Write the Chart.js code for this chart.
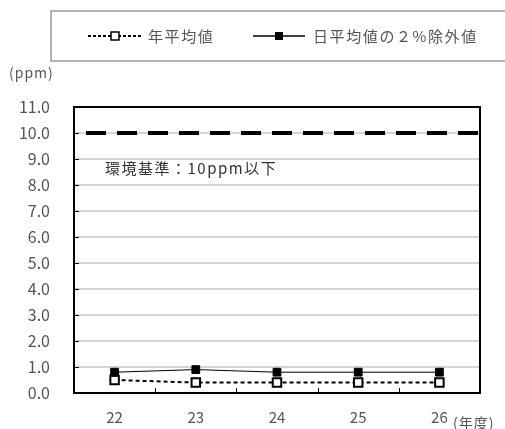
<!DOCTYPE html>
<html>
<head>
<meta charset="utf-8">
<script src="https://cdn.jsdelivr.net/npm/chart.js@4/dist/chart.umd.min.js"></script>
<style>
  html, body { margin: 0; padding: 0; background: #fff; }
  #wrap { width: 505px; height: 429px; position: relative; }
</style>
</head>
<body>
<div id="wrap"><canvas id="chart" width="505" height="429"></canvas></div>
<script>
// データ
const years = ['22', '23', '24', '25', '26'];
const annualMean = [0.5, 0.4, 0.4, 0.4, 0.4];          // 年平均値
const dailyExcl2 = [0.8, 0.9, 0.8, 0.8, 0.8];          // 日平均値の２%除外値
const yTicks = [0, 1, 2, 3, 4, 5, 6, 7, 8, 9, 10, 11];
const standardValue = 10;
const standardLabel = '環境基準：10ppm以下';

const FONT = '"Noto Sans CJK JP", "DejaVu Sans", sans-serif';
const TEXT = '#555';

// 枠・目盛り・基準線・凡例を描くプラグイン
const extras = {
    id: 'extras',
    afterDraw(chart) {
        const ctx = chart.ctx;
        const a = chart.chartArea;
        const x = chart.scales.x;
        const y = chart.scales.y;
        ctx.save();

        // 基準線 (太い破線)
        const y10 = Math.round(y.getPixelForValue(standardValue));
        ctx.strokeStyle = '#000';
        ctx.lineWidth = 4;
        ctx.setLineDash([20, 11]);
        ctx.beginPath();
        ctx.moveTo(a.left + 12, y10);
        ctx.lineTo(a.right, y10);
        ctx.stroke();
        ctx.setLineDash([]);

        ctx.fillStyle = '#333';
        ctx.font = '15px ' + FONT;
        ctx.letterSpacing = '1.5px';
        ctx.textBaseline = 'middle';
        ctx.textAlign = 'left';
        ctx.fillText(standardLabel, 105, 168);

        // 内向きの目盛り
        ctx.strokeStyle = '#000';
        ctx.lineWidth = 1;
        ctx.beginPath();
        yTicks.forEach(v => {
            const py = Math.round(y.getPixelForValue(v)) + 0.5;
            ctx.moveTo(a.left, py);
            ctx.lineTo(a.left + 5, py);
        });
        for (let i = 1; i < years.length; i++) {
            const px = Math.round((x.getPixelForValue(i - 1) + x.getPixelForValue(i)) / 2) + 0.5;
            ctx.moveTo(px, a.bottom);
            ctx.lineTo(px, a.bottom - 5);
        }
        ctx.stroke();

        // 外枠
        ctx.lineWidth = 2;
        ctx.strokeRect(a.left, a.top, a.right - a.left, a.bottom - a.top);

        // 単位
        ctx.fillStyle = TEXT;
        ctx.font = '14px ' + FONT;
        ctx.letterSpacing = '1px';
        ctx.fillText('(ppm)', 9, 73);
        ctx.fillText('(年度)', 453, 423);

        // 凡例
        ctx.strokeStyle = '#999';
        ctx.lineWidth = 1.5;
        ctx.strokeRect(51, 11, 470, 50);
        const ly = 36;
        ctx.strokeStyle = '#000';
        ctx.lineWidth = 2;
        ctx.setLineDash([3, 2]);
        ctx.beginPath();
        ctx.moveTo(88, ly);
        ctx.lineTo(143, ly);
        ctx.stroke();
        ctx.setLineDash([]);
        ctx.fillStyle = '#fff';
        ctx.fillRect(111, ly - 4, 8, 8);
        ctx.lineWidth = 1.5;
        ctx.strokeRect(111, ly - 4, 8, 8);

        ctx.lineWidth = 1.5;
        ctx.beginPath();
        ctx.moveTo(253, ly);
        ctx.lineTo(305, ly);
        ctx.stroke();
        ctx.fillStyle = '#000';
        ctx.fillRect(275, ly - 4, 8, 8);

        ctx.fillStyle = TEXT;
        ctx.font = '15px ' + FONT;
        ctx.letterSpacing = '1.6px';
        ctx.fillText('年平均値', 148, ly);
        ctx.fillText('日平均値の２%除外値', 313, ly);
        ctx.restore();
    }
};

new Chart(document.getElementById('chart'), {
    type: 'line',
    data: {
        labels: years,
        datasets: [
            {
                label: '日平均値の２%除外値',
                data: dailyExcl2,
                borderColor: '#000',
                borderWidth: 1,
                pointStyle: 'rect',
                pointRadius: 5.5,
                pointBackgroundColor: '#000',
                pointBorderColor: '#000',
                pointBorderWidth: 1,
                tension: 0
            },
            {
                label: '年平均値',
                data: annualMean,
                borderColor: '#000',
                borderWidth: 2,
                borderDash: [4, 3],
                pointStyle: 'rect',
                pointRadius: 6,
                pointBackgroundColor: '#fff',
                pointBorderColor: '#000',
                pointBorderWidth: 2,
                tension: 0
            }
        ]
    },
    options: {
        responsive: false,
        animation: false,
        layout: { padding: { left: 0, top: 107, right: 25, bottom: 0 } },
        plugins: { legend: { display: false }, tooltip: { enabled: false } },
        scales: {
            x: {
                offset: true,
                grid: { display: false },
                border: { display: false },
                ticks: { color: TEXT, font: { family: FONT, size: 15 }, padding: 7 },
                afterFit(scale) { scale.height = 36; }
            },
            y: {
                min: 0,
                max: 11,
                border: { display: false },
                grid: { color: '#d4d4d4', lineWidth: 2, drawTicks: false },
                ticks: {
                    stepSize: 1,
                    color: TEXT,
                    font: { family: FONT, size: 16 },
                    padding: 24,
                    callback: v => v.toFixed(1)
                },
                afterFit(scale) { scale.width = 74; }
            }
        }
    },
    plugins: [extras]
});
</script>
</body>
</html>
